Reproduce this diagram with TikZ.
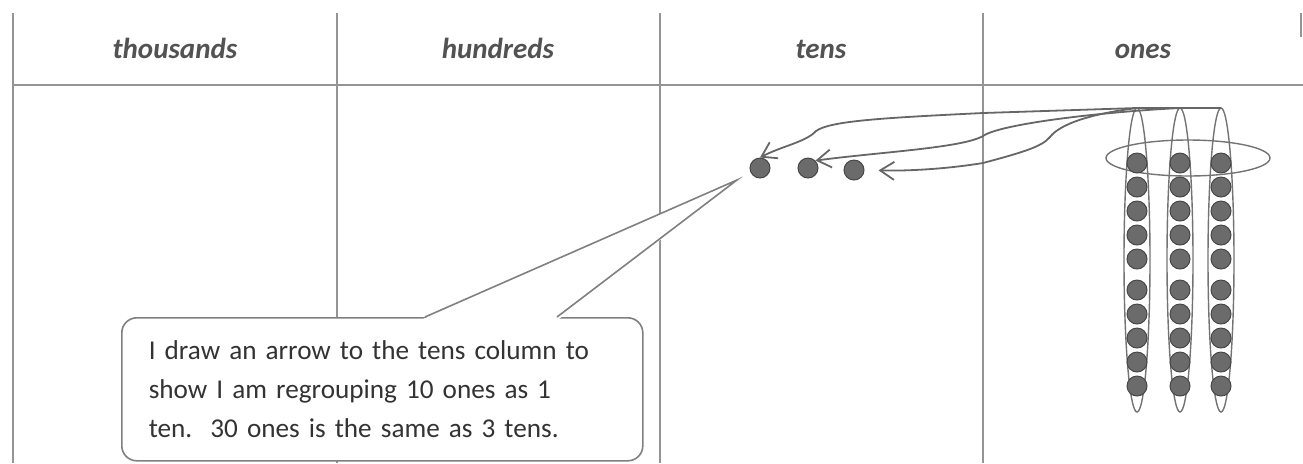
\documentclass[tikz,border=0pt]{standalone}
\usepackage{fontspec}
\setmainfont{Carlito}
\usetikzlibrary{arrows.meta}

\begin{document}
\begin{tikzpicture}[x=0.5pt,y=-0.5pt,
  rule/.style={draw=black!42,line width=1pt},
  head/.style={font=\fontsize{14.5}{16}\selectfont\bfseries\itshape,text=black!68,anchor=base},
  pod/.style={draw=black!55,line width=0.7pt},
  bead/.style={circle,draw=black!72,fill=black!58,line width=0.5pt,minimum size=10pt,inner sep=0pt},
  move/.style={draw=black!60,line width=0.9pt,-{Straight Barb[length=7pt,width=9pt]}},
  callout/.style={draw=black!50,line width=0.8pt,fill=white,rounded corners=7.5pt,
    text=black!80,font=\fontsize{13.6}{19.5}\selectfont,align=left,
    inner xsep=13.5pt,text width=233.5pt,minimum height=71.5pt}
]
\useasboundingbox (0,0) rectangle (1303,463);

\foreach \x in {13,337,660,983} \draw[rule] (\x,13) -- (\x,463);
\draw[rule] (1301,13) -- (1301,37);
\draw[rule] (13,85) -- (1303,85);

\foreach \x/\t in {175/thousands,498/hundreds,821/tens,1143/ones}
  \node[head] (h-\t) at (\x,58) {\t};

\draw[pod] (1188,158) ellipse[x radius=82, y radius=18];
\foreach \x [count=\c] in {1137,1180,1221} {
  \draw[pod] (\x,260) ellipse[x radius=13, y radius=152];
  \coordinate (top\c) at (\x,108);
  \foreach \y [count=\r] in {163,187,211,235,259,290,314,338,362,386}
    \node[bead] (b\c-\r) at (\x,\y) {};
}

\node[bead] (t1) at (760,168) {};
\node[bead] (t2) at (808,168) {};
\node[bead] (t3) at (854,170) {};

\draw[move] (top3) -- (top1) -- (983,113) .. controls (880,118) and (830,121) .. (816,131)
  .. controls (806,142) and (782,146) .. (t1.north);
\draw[move] (top2) .. controls (1100,112) and (1000,124) .. (983,136)
  .. controls (962,148) and (880,152) .. (t2.north east);
\draw[move,shorten >=7pt] (top1) .. controls (1090,114) and (1060,124) .. (1050,137)
  .. controls (1042,147) and (1020,153) .. (983,163)
  .. controls (940,170) and (900,171) .. (t3.east);

\node[callout,anchor=north west] (note) at (121,317)
  {I draw an arrow to the tens column to\\show I am regrouping 10 ones as 1\\ten.~\ 30 ones is the same as 3 tens.};
\coordinate (tip) at (737,180);
\fill[white] ([xshift=151pt,yshift=-1pt]note.north west) -- (tip) -- ([xshift=219pt,yshift=-1pt]note.north west) -- cycle;
\draw[draw=black!50,line width=0.8pt] ([xshift=152pt]note.north west) -- (tip) -- ([xshift=218pt]note.north west);
\end{tikzpicture}
\end{document}
